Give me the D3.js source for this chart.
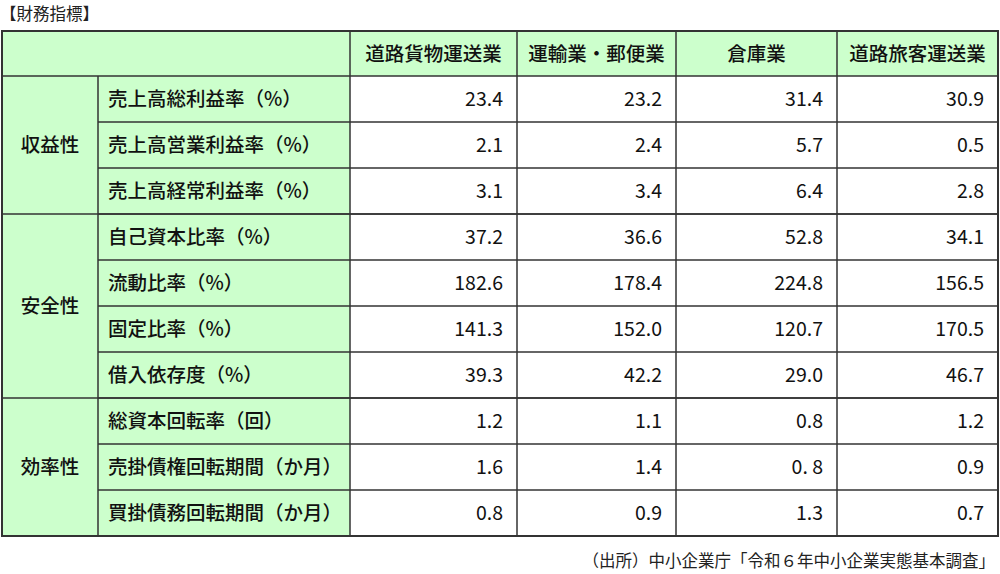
<!DOCTYPE html>
<html><head><meta charset="utf-8">
<script src="https://cdn.jsdelivr.net/npm/d3@7"></script>
<style>body{margin:0;background:#fff}</style>
</head><body>
<svg id="tbl" width="1000" height="574"></svg>
<script>
// table contents
const industries = ["道路貨物運送業", "運輸業・郵便業", "倉庫業", "道路旅客運送業"];
const groups = [["収益性", 3], ["安全性", 4], ["効率性", 3]];
const indicators = ["売上高総利益率（%）", "売上高営業利益率（%）", "売上高経常利益率（%）",
    "自己資本比率（%）", "流動比率（%）", "固定比率（%）", "借入依存度（%）",
    "総資本回転率（回）", "売掛債権回転期間（か月）", "買掛債務回転期間（か月）"];
const values = [
    ["23.4", "23.2", "31.4", "30.9"],
    ["2.1", "2.4", "5.7", "0.5"],
    ["3.1", "3.4", "6.4", "2.8"],
    ["37.2", "36.6", "52.8", "34.1"],
    ["182.6", "178.4", "224.8", "156.5"],
    ["141.3", "152.0", "120.7", "170.5"],
    ["39.3", "42.2", "29.0", "46.7"],
    ["1.2", "1.1", "0.8", "1.2"],
    ["1.6", "1.4", "0. 8", "0.9"],
    ["0.8", "0.9", "1.3", "0.7"]
];

const svg = d3.select("#tbl");
const font = "'Noto Sans CJK JP', 'Noto Sans', sans-serif";
const green = "#ccffcc", line = "#333";
const fs = 19.5;
const colX = [2, 98, 350, 517, 676, 837, 998];
const top0 = 31, headH = 45;
const y = d3.scaleLinear().domain([0, indicators.length]).range([top0 + headH, 536]);

svg.append("text").attr("x", 0).attr("y", 20).attr("font-family", font)
    .attr("font-size", 16.5).attr("fill", "#222").text("【財務指標】");

// header
svg.append("rect").attr("x", colX[0]).attr("y", top0).attr("width", colX[6] - colX[0])
    .attr("height", headH).attr("fill", green);
svg.append("rect").attr("x", colX[0]).attr("y", y(0)).attr("width", colX[2] - colX[0])
    .attr("height", y(indicators.length) - y(0)).attr("fill", green);

industries.forEach((d, i) => {
    svg.append("text").attr("x", (colX[i + 2] + colX[i + 3]) / 2).attr("y", top0 + headH / 2 + 7)
        .attr("text-anchor", "middle").attr("font-family", font).attr("font-size", fs)
        .attr("font-weight", 500).attr("fill", "#111").text(d);
});

// group cells
let r = 0;
groups.forEach(g => {
    const y0 = y(r), y1 = y(r + g[1]);
    svg.append("text").attr("x", (colX[0] + colX[1]) / 2).attr("y", (y0 + y1) / 2 + 7)
        .attr("text-anchor", "middle").attr("font-family", font).attr("font-size", fs)
        .attr("font-weight", 500).attr("fill", "#111").text(g[0]);
    svg.append("line").attr("x1", colX[0]).attr("x2", colX[6]).attr("y1", y1).attr("y2", y1)
        .attr("stroke", line).attr("stroke-width", 1.5);
    r += g[1];
});

// rows
indicators.forEach((d, i) => {
    const cy = (y(i) + y(i + 1)) / 2 + 7;
    svg.append("text").attr("x", colX[1] + 10).attr("y", cy).attr("font-family", font)
        .attr("font-size", fs).attr("font-weight", 500).attr("fill", "#111").text(d);
    values[i].forEach((v, j) => {
        svg.append("text").attr("x", colX[j + 3] - 14).attr("y", cy).attr("text-anchor", "end")
            .attr("font-family", font).attr("font-size", fs).attr("fill", "#111").text(v);
    });
    svg.append("line").attr("x1", colX[1]).attr("x2", colX[6]).attr("y1", y(i + 1)).attr("y2", y(i + 1))
        .attr("stroke", line).attr("stroke-width", 1.5);
});

// grid
svg.append("line").attr("x1", colX[0]).attr("x2", colX[6]).attr("y1", y(0)).attr("y2", y(0))
    .attr("stroke", line).attr("stroke-width", 1.5);
colX.forEach((x, i) => {
    svg.append("line").attr("x1", x).attr("x2", x)
        .attr("y1", (i === 1) ? y(0) : top0).attr("y2", y(indicators.length))
        .attr("stroke", line).attr("stroke-width", 1.5);
});
svg.append("rect").attr("x", colX[0]).attr("y", top0).attr("width", colX[6] - colX[0])
    .attr("height", y(indicators.length) - top0).attr("fill", "none")
    .attr("stroke", line).attr("stroke-width", 2);

svg.append("text").attr("x", 995).attr("y", 567).attr("text-anchor", "end")
    .attr("font-family", font).attr("font-size", 16.5).attr("fill", "#222")
    .text("（出所）中小企業庁「令和６年中小企業実態基本調査」");
</script>
</body></html>
